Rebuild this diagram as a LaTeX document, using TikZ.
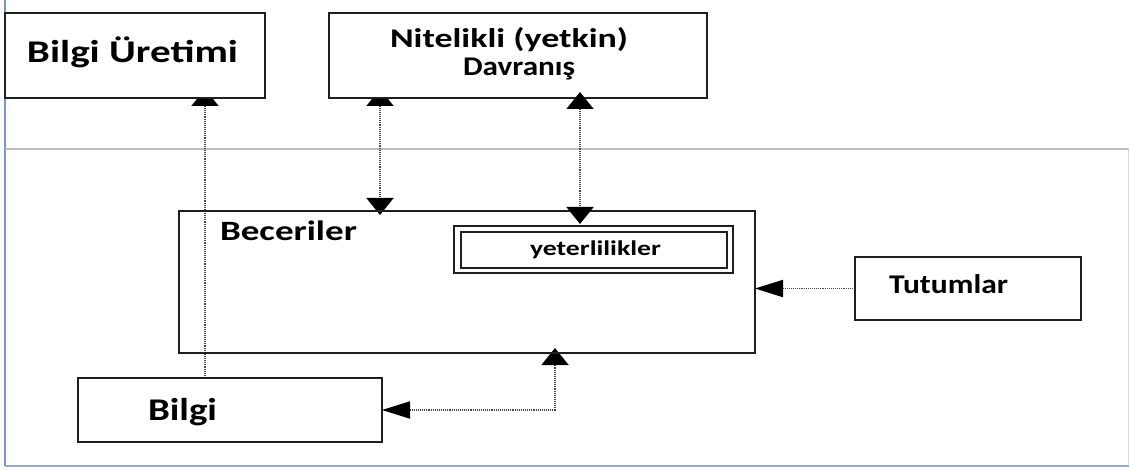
\documentclass[tikz,border=0pt]{standalone}
\usepackage{fontspec}
\setmainfont{Carlito}
\usetikzlibrary{arrows.meta}
\pgfdeclarelayer{bottom}
\pgfdeclarelayer{back}
\pgfsetlayers{bottom,back,main}
% bold text of a given size, stretched to a given width
\newcommand\fitw[3]{\resizebox{#1pt}{\height}{\fontsize{#2pt}{#2pt}\selectfont\bfseries #3}}
\definecolor{framebl}{RGB}{120,150,195}
\definecolor{framegr}{RGB}{190,190,190}
\begin{document}
\begin{tikzpicture}[x=1pt,y=-1pt,
  box/.style={rectangle,draw=black!88,line width=1.8pt,fill=white,inner sep=0pt,outer sep=0pt},
  lbl/.style={anchor=base west,inner sep=0pt,outer sep=0pt},
  link/.style={draw=black!72,line width=1.8pt,dash pattern=on 1.1pt off 1pt},
  vtip/.tip={Triangle[length=17pt,width=27pt,color=black]},
  htip/.tip={Triangle[length=28pt,width=17pt,color=black]}]
\useasboundingbox (0,0) rectangle (1129,470);
\begin{pgfonlayer}{bottom}
\fill[white] (0,0) rectangle (1129,470);
% page frame
\draw[framebl,line width=1.5pt] (5,0) -- (5,466);
\draw[framegr,line width=2pt] (5,149) -- (1129,149);
\draw[black!15,line width=1pt] (1128,149) -- (1128,466);
\draw[framebl!80,line width=1.5pt] (5,466) -- (1129,466);
\end{pgfonlayer}

% boxes
\node[box,minimum width=260pt,minimum height=85pt] (bu) at (135,55.5) {};
\node[box,minimum width=378pt,minimum height=85pt] (nit) at (518,55.5) {};
\node[box,fill=none,minimum width=576pt,minimum height=142pt] (bec) at (467,282) {};
\node[box,line width=1.3pt,minimum width=279pt,minimum height=47pt] (yet) at (593.5,249.5) {};
\node[box,line width=2.4pt,fill=none,minimum width=266pt,minimum height=36pt] (yetin) at (594,250) {};
\node[box,minimum width=304pt,minimum height=64pt] (bilgi) at (230,410) {};
\node[box,minimum width=226pt,minimum height=63pt] (tut) at (968,288.5) {};

% labels
\node[lbl] (tbu) at (27,63) {\fitw{211}{31.6}{Bilgi Üretimi}};
\node[lbl] (tnit1) at (390,48) {\fitw{238}{27}{Nitelikli (yetkin)}};
\node[lbl] (tnit2) at (463,76) {\fitw{112}{27}{Davranış}};
\node[lbl] (tbec) at (220,241) {\fitw{137}{28}{Beceriler}};
\node[lbl] (tyet) at (530,256) {\fitw{131}{21}{yeterlilikler}};
\node[lbl] (tbil) at (148,420) {\fitw{69}{31.6}{Bilgi}};
\node[lbl] (ttut) at (889,293) {\fitw{119}{27}{Tutumlar}};

% connector guides
\coordinate (xa) at (205,0);
\coordinate (xb) at (380,0);
\coordinate (xc) at (580,0);
\coordinate (xd) at (555,410);

\begin{pgfonlayer}{back}
\draw[link,-vtip,shorten >=-9pt] (bilgi.north -| xa) -- (bu.south -| xa);
\draw[link,vtip-vtip,shorten <=-9pt,shorten >=-4pt] (nit.south -| xb) -- (bec.north -| xb);
\draw[link,htip-vtip,shorten >=-5pt] (bilgi.east) -- (xd) -- (bec.south -| xd);
\draw[link,-htip] (tut.west) -- (bec.east |- tut.west);
\end{pgfonlayer}
\draw[link,vtip-vtip,shorten <=-6pt,shorten >=2pt] (nit.south -| xc) -- (yet.north -| xc);
\end{tikzpicture}
\end{document}
